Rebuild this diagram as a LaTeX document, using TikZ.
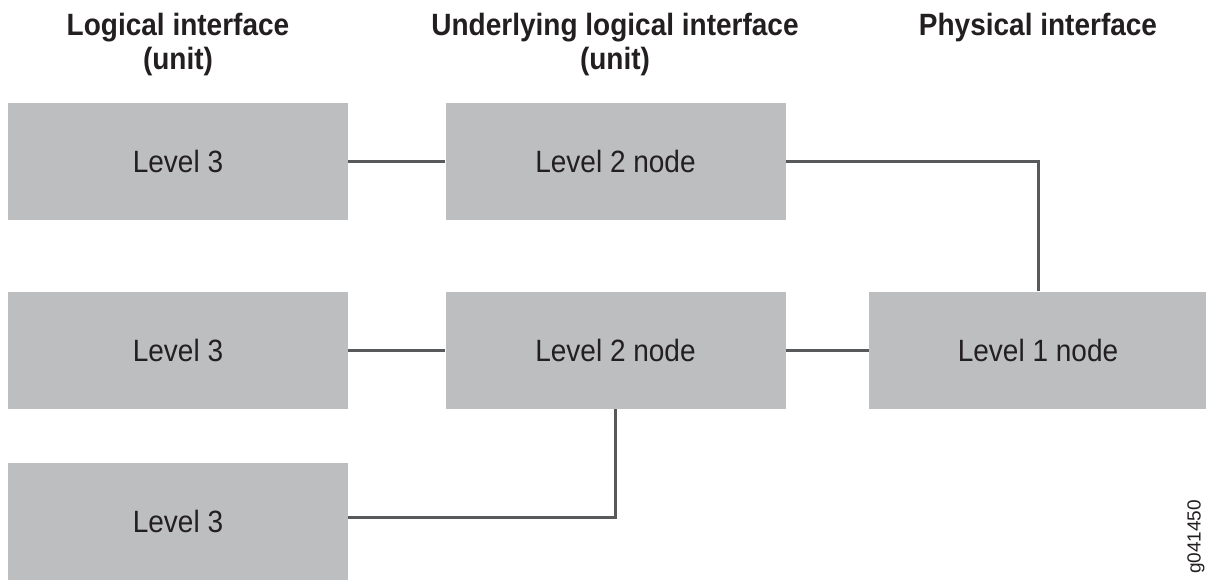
\documentclass[tikz,border=0pt]{standalone}
\usepackage{fontspec}
\setmainfont{Liberation Sans}
\definecolor{boxgray}{HTML}{BDBEC0}
\definecolor{linegray}{HTML}{58595B}
\definecolor{ink}{HTML}{231F20}
\newcommand{\talltext}[1]{\scalebox{1}[1.1]{#1}}
\tikzset{
  unitbox/.style={fill=boxgray, draw=none, minimum width=340pt, minimum height=117pt,
    inner sep=0pt, text=ink, font=\fontsize{28}{34}\selectfont},
  header/.style={anchor=base, inner sep=0pt, text=ink, font=\bfseries\fontsize{28}{34}\selectfont},
  link/.style={draw=linegray, line width=3pt},
  figid/.style={rotate=90, inner sep=0pt, text=ink, font=\fontsize{19}{22}\selectfont}
}
\begin{document}
\begin{tikzpicture}[x=1pt, y=-1pt]
  \useasboundingbox (0,0) rectangle (1206,579);

  % column headers
  \node[header] (h1a) at (178,35) {\talltext{Logical interface}};
  \node[header] (h1b) at (178,69) {\talltext{(unit)}};
  \node[header] (h2a) at (615,35) {\talltext{Underlying logical interface}};
  \node[header] (h2b) at (615,69) {\talltext{(unit)}};
  \node[header] (h3a) at (1038,35) {\talltext{Physical interface}};

  % interface boxes
  \node[unitbox] (l3a) at (178,161) {\talltext{Level 3}};
  \node[unitbox] (l2a) at (615.5,161) {\talltext{Level 2 node}};
  \node[unitbox] (l3b) at (178,350) {\talltext{Level 3}};
  \node[unitbox] (l2b) at (615.5,350) {\talltext{Level 2 node}};
  \node[unitbox, minimum width=338pt] (l1) at (1038,350) {\talltext{Level 1 node}};
  \node[unitbox] (l3c) at (178,521) {\talltext{Level 3}};

  % connections
  \draw[link] (l3a.east) -- (l2a.west);
  \draw[link] (l2a.east) -| (l1.north);
  \draw[link] (l3b.east) -- (l2b.west);
  \draw[link] (l2b.east) -- (l1.west);
  \draw[link] ([yshift=4pt]l3c.east) -| (l2b.south);

  % figure id
  \node[figid] (fid) at (1196,537) {g041450};
\end{tikzpicture}
\end{document}
